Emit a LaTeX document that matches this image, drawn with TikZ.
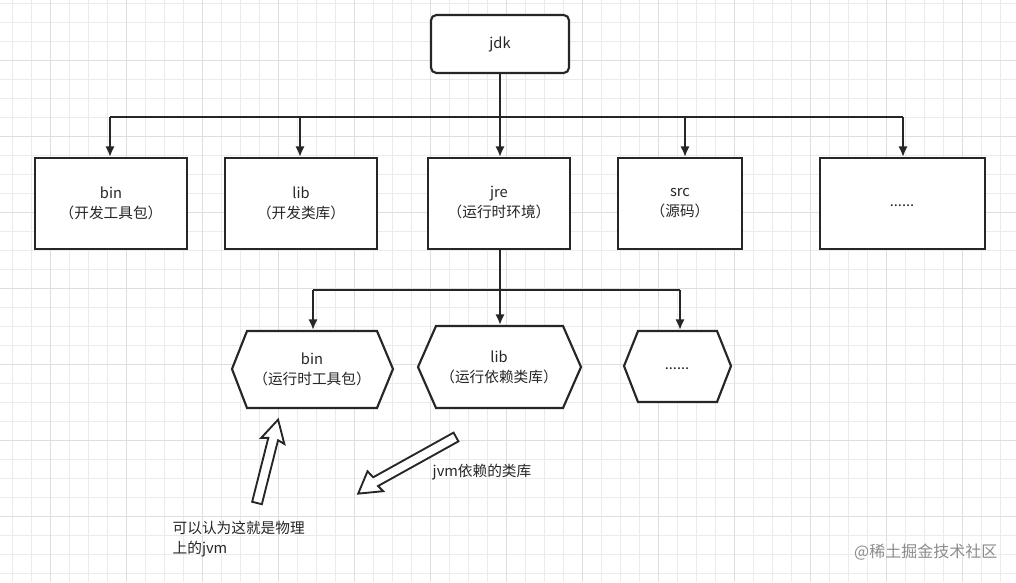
\documentclass[tikz,border=0pt]{standalone}
\usepackage{fontspec}
\usetikzlibrary{arrows.meta}
\setmainfont{Noto Sans CJK SC}
\begin{document}
\begin{tikzpicture}[x=0.75pt,y=-0.75pt,
  box/.style={draw=black!85,line width=1.6pt,fill=white},
  hex/.style={draw=black!85,line width=1.6pt,fill=white},
  conn/.style={draw=black!85,line width=1.6pt},
  arr/.style={conn,-{Latex[length=8pt,width=7pt]}},
  lbl/.style={font=\fontsize{11}{15}\selectfont,text=black!85,align=center},
  barrow/.style={draw=black!85,line width=1.4pt,fill=white}]
\useasboundingbox (0,0) rectangle (1016,582);
\fill[white] (0,0) rectangle (1016,582);
\foreach \i in {0,...,54} {
  \draw[black!8,line width=0.5pt] (12+19*\i,0) -- (12+19*\i,582);
}
\foreach \i in {0,...,31} {
  \draw[black!8,line width=0.5pt] (0,3+19*\i) -- (1016,3+19*\i);
}
\foreach \i in {0,...,13} {
  \draw[black!13,line width=0.6pt] (50+76*\i,0) -- (50+76*\i,582);
}
\foreach \i in {0,...,7} {
  \draw[black!13,line width=0.6pt] (0,60+76*\i) -- (1016,60+76*\i);
}
% jdk
\draw[box,rounded corners=4pt] (431,15) rectangle (569,73);
\node[lbl] (jdk) at (500,44) {jdk};
\coordinate (jdkb) at (500,73);
% row 1
\draw[box] (35,158) rectangle (187,249);
\node[lbl] (bin) at (111,203) {bin\\（开发工具包）};
\draw[box] (225,158) rectangle (377,249);
\node[lbl] (lib) at (301,203) {lib\\（开发类库）};
\draw[box] (428,158) rectangle (570,249);
\node[lbl] (jre) at (499,203) {jre\\（运行时环境）};
\draw[box] (618,158) rectangle (742,249);
\node[lbl] (src) at (680,203) {src\\（源码）};
\draw[box] (820,158) rectangle (985,249);
\node[lbl] (dots1) at (902,206) {......};
\coordinate (j1) at (500,117);
\coordinate (h1) at (110,117);
\coordinate (h2) at (903,117);
\draw[conn] (jdkb) -- (j1);
\draw[conn] (h1) -- (h2);
\draw[arr] (h1) -- (110,157);
\draw[arr] (300,117) -- (300,157);
\draw[arr] (j1) -- (500,157);
\draw[arr] (685,117) -- (685,157);
\draw[arr] (h2) -- (903,157);
% row 2
\draw[hex] (232,369) -- (247,331) -- (377,331) -- (393,369) -- (377,408) -- (247,408) -- cycle;
\node[lbl] (rbin) at (312,369) {bin\\（运行时工具包）};
\draw[hex] (418,367) -- (436,326) -- (563,326) -- (581,367) -- (563,408) -- (436,408) -- cycle;
\node[lbl] (rlib) at (499,367) {lib\\（运行依赖类库）};
\draw[hex] (624,366) -- (638,331) -- (717,331) -- (731,366) -- (717,402) -- (638,402) -- cycle;
\node[lbl] (dots2) at (677,369) {......};
\coordinate (j2) at (500,290);
\coordinate (k1) at (313,290);
\coordinate (k2) at (680,290);
\draw[conn] (500,249) -- (j2);
\draw[conn] (k1) -- (k2);
\draw[arr] (k1) -- (313,330);
\draw[arr] (j2) -- (500,325);
\draw[arr] (k2) -- (680,330);
% block arrows
\begin{scope}[shift={(257,503)},rotate=75.8]
\draw[barrow] (0,-5) -- (66,-5) -- (64,-12) -- (86,0) -- (64,12) -- (66,5) -- (0,5) -- cycle;
\end{scope}
\begin{scope}[shift={(456,437)},rotate=29.05,xscale=-1]
\draw[barrow] (0,-5) -- (92,-5) -- (94,-13) -- (113,2) -- (90,12) -- (92,5) -- (0,5) -- cycle;
\end{scope}
\node[lbl,align=left,anchor=north west] (t1) at (168,516) {可以认为这就是物理\\上的jvm};
\node[lbl,anchor=west] (t2) at (428,472) {jvm依赖的类库};
\node[font=\fontsize{12}{14}\selectfont,text=black!45,anchor=east] (wm) at (1002,552) {@稀土掘金技术社区};
\end{tikzpicture}
\end{document}
